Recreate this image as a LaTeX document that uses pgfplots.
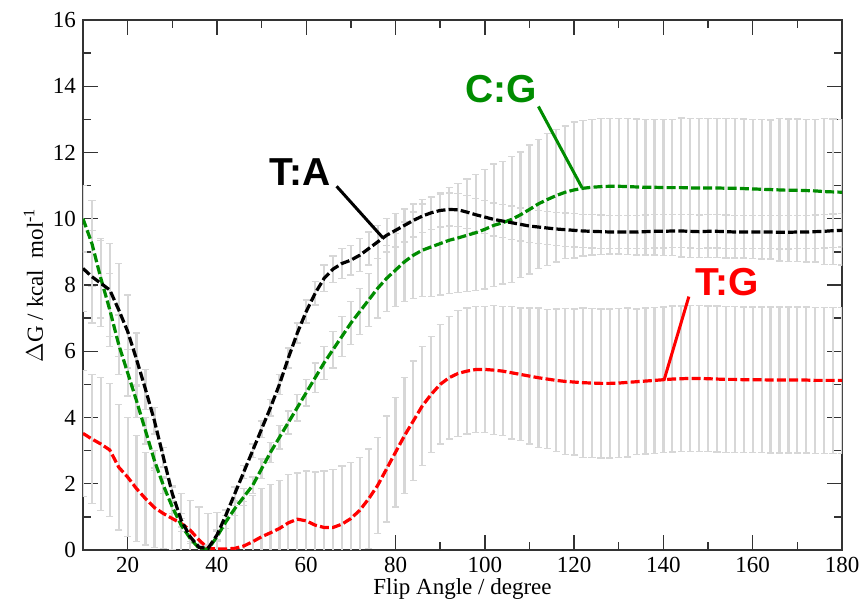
\documentclass[border=0pt]{standalone}
\usepackage{fontspec}
\setmainfont{Liberation Serif}
\setsansfont{Liberation Sans}
\usepackage{pgfplots}
\usepackage{pgfplotstable}
\pgfplotsset{compat=1.18}

\definecolor{cgG}{RGB}{0,140,0}
\definecolor{tgR}{RGB}{255,0,0}
\definecolor{barG}{RGB}{215,215,215}

% x = flip angle, y = dG, e = error
\pgfplotstableread{
x y e
10 8.50 1.3
12 8.25 1.4
14 8.05 1.3
16 7.85 1.4
18 7.25 1.4
20 6.60 1.1
22 5.75 0.8
24 4.85 0.6
26 3.90 0.4
28 2.80 0.3
30 1.70 0.25
32 0.90 0.2
34 0.40 0.15
36 0.08 0.1
38 0.05 0.1
40 0.45 0.15
42 1.05 0.15
44 1.70 0.2
46 2.35 0.2
48 3.00 0.2
50 3.65 0.25
52 4.30 0.25
54 5.00 0.3
56 5.80 0.3
58 6.55 0.3
60 7.20 0.35
62 7.75 0.35
64 8.20 0.4
66 8.48 0.4
68 8.65 0.45
70 8.75 0.45
72 8.90 0.5
74 9.10 0.5
76 9.30 0.5
78 9.50 0.5
80 9.65 0.5
82 9.80 0.5
84 9.95 0.5
86 10.08 0.5
88 10.18 0.5
90 10.25 0.5
92 10.28 0.5
94 10.27 0.5
96 10.20 0.5
98 10.12 0.5
100 10.05 0.5
102 9.98 0.5
104 9.93 0.5
106 9.88 0.5
108 9.83 0.5
110 9.78 0.5
112 9.75 0.5
114 9.72 0.5
116 9.69 0.5
118 9.67 0.5
120 9.65 0.5
122 9.63 0.5
124 9.62 0.5
126 9.61 0.5
128 9.60 0.5
130 9.60 0.5
132 9.60 0.5
134 9.60 0.5
136 9.61 0.5
138 9.62 0.5
140 9.62 0.5
142 9.63 0.5
144 9.63 0.5
146 9.62 0.5
148 9.61 0.5
150 9.62 0.5
152 9.62 0.5
154 9.61 0.5
156 9.60 0.5
158 9.60 0.5
160 9.60 0.5
162 9.60 0.5
164 9.60 0.5
166 9.59 0.5
168 9.59 0.5
170 9.60 0.5
172 9.60 0.5
174 9.61 0.5
176 9.62 0.5
178 9.64 0.5
180 9.65 0.5
}\ta

\pgfplotstableread{
x y e
10 10.00 1.0
12 9.25 1.3
14 8.20 1.2
16 7.25 1.1
18 6.20 0.9
20 5.35 0.7
22 4.50 0.5
24 3.60 0.4
26 2.70 0.3
28 1.95 0.25
30 1.30 0.2
32 0.75 0.2
34 0.35 0.15
36 0.05 0.1
38 0.02 0.1
40 0.40 0.15
42 0.85 0.2
44 1.25 0.2
46 1.60 0.25
48 1.95 0.25
50 2.45 0.3
52 2.95 0.3
54 3.40 0.35
56 3.85 0.35
58 4.30 0.4
60 4.75 0.4
62 5.20 0.45
64 5.65 0.5
66 6.05 0.55
68 6.45 0.6
70 6.85 0.65
72 7.20 0.7
74 7.55 0.8
76 7.90 0.9
78 8.20 1.0
80 8.45 1.1
82 8.70 1.2
84 8.90 1.3
86 9.05 1.4
88 9.15 1.5
90 9.25 1.55
92 9.35 1.6
94 9.42 1.65
96 9.50 1.7
98 9.58 1.75
100 9.68 1.8
102 9.80 1.85
104 9.88 1.85
106 9.98 1.9
108 10.12 1.9
110 10.28 1.95
112 10.45 1.95
114 10.58 2.0
116 10.70 2.0
118 10.80 2.0
120 10.87 2.05
122 10.92 2.05
124 10.95 2.05
126 10.97 2.05
128 10.98 2.05
130 10.98 2.05
132 10.97 2.05
134 10.96 2.05
136 10.95 2.05
138 10.95 2.05
140 10.94 2.05
142 10.94 2.05
144 10.94 2.1
146 10.93 2.1
148 10.93 2.1
150 10.93 2.1
152 10.93 2.1
154 10.92 2.1
156 10.92 2.1
158 10.91 2.1
160 10.90 2.1
162 10.89 2.1
164 10.88 2.1
166 10.87 2.15
168 10.86 2.15
170 10.86 2.15
172 10.85 2.15
174 10.84 2.15
176 10.82 2.2
178 10.81 2.2
180 10.80 2.2
}\cg

\pgfplotstableread{
x y e
10 3.52 1.9
12 3.35 1.95
14 3.20 2.0
16 3.02 2.0
18 2.50 1.9
20 2.20 1.8
22 1.85 1.6
24 1.55 1.4
26 1.28 1.2
28 1.10 1.05
30 0.95 0.95
32 0.80 0.9
34 0.60 0.9
36 0.30 1.0
38 0.05 1.05
40 0.03 1.1
42 0.03 1.2
44 0.05 1.3
46 0.12 1.35
48 0.25 1.4
50 0.40 1.45
52 0.52 1.45
54 0.65 1.45
56 0.82 1.45
58 0.93 1.4
60 0.88 1.5
62 0.75 1.6
64 0.68 1.7
66 0.68 1.75
68 0.78 1.75
70 0.95 1.7
72 1.20 1.6
74 1.55 1.5
76 1.95 1.45
78 2.45 1.6
80 2.95 1.65
82 3.45 1.75
84 3.90 1.8
86 4.35 1.8
88 4.70 1.75
90 5.00 1.8
92 5.20 1.85
94 5.33 1.9
96 5.40 1.9
98 5.45 1.9
100 5.45 1.9
102 5.43 1.95
104 5.40 1.95
106 5.35 2.0
108 5.30 2.0
110 5.25 2.05
112 5.20 2.1
114 5.16 2.1
116 5.12 2.15
118 5.09 2.2
120 5.07 2.2
122 5.05 2.25
124 5.04 2.25
126 5.03 2.25
128 5.03 2.25
130 5.04 2.25
132 5.06 2.25
134 5.08 2.2
136 5.10 2.2
138 5.12 2.2
140 5.14 2.2
142 5.16 2.2
144 5.17 2.2
146 5.18 2.2
148 5.18 2.2
150 5.17 2.2
152 5.16 2.2
154 5.15 2.2
156 5.15 2.2
158 5.14 2.2
160 5.14 2.2
162 5.14 2.2
164 5.13 2.2
166 5.13 2.2
168 5.13 2.2
170 5.13 2.2
172 5.13 2.2
174 5.12 2.2
176 5.12 2.2
178 5.12 2.2
180 5.12 2.2
}\tg

\pgfplotsset{
  errs/.style={draw=none, mark=none, forget plot,
    error bars/.cd, y dir=both, y explicit,
    error bar style={draw=barG, line width=1.1pt, solid},
    error mark options={rotate=90, mark size=1.8pt, line width=0.7pt, draw=barG, solid}},
  curve/.style={line width=1.6pt, dash pattern=on 4.5pt off 1.6pt, mark=none},
}

\begin{document}
\begin{tikzpicture}
\begin{axis}[
  scale only axis,
  width=379.5pt, height=265pt,
  xmin=10, xmax=180, ymin=0, ymax=16,
  xtick={20,40,...,180}, minor xtick={10,30,...,170},
  xticklabels={20,40,60,80,100,120,140,160,180},
  ytick={0,2,...,16}, minor ytick={1,3,...,15},
  yticklabels={0,2,4,6,8,10,12,14,16},
  major tick length=7.5pt, minor tick length=4pt,
  tick style={line width=0.7pt, black!80},
  axis line style={line width=0.75pt, black!80},
  tick label style={font=\rmfamily\fontsize{11.5}{13}\selectfont},
  label style={font=\rmfamily\fontsize{11.5}{13}\selectfont},
  xlabel={Flip Angle / degree},
  ylabel={$\Delta$G / kcal\ \ mol\textsuperscript{-1}},
  xlabel style={yshift=4pt},
  ylabel style={yshift=-2pt},
]
\addplot[errs] table[x=x, y=y, y error=e] {\tg};
\addplot[errs] table[x=x, y=y, y error=e] {\cg};
\addplot[errs] table[x=x, y=y, y error=e] {\ta};

\addplot[curve, tgR] table[x=x, y=y] {\tg};
\addplot[curve, cgG] table[x=x, y=y] {\cg};
\addplot[curve, black] table[x=x, y=y] {\ta};

\draw[line width=1.5pt, black] (axis cs:66.8,10.98) -- (axis cs:77.2,9.42);
\draw[line width=1.5pt, cgG] (axis cs:112,13.39) -- (axis cs:121.8,10.93);
\draw[line width=1.5pt, tgR] (axis cs:145.7,7.65) -- (axis cs:140.1,5.11);

\node[font=\sffamily\bfseries\fontsize{19.5}{20}\selectfont, black] at (axis cs:58.6,11.4) {T:A};
\node[font=\sffamily\bfseries\fontsize{19.5}{20}\selectfont, cgG] at (axis cs:103.6,13.9) {C:G};
\node[font=\sffamily\bfseries\fontsize{19.5}{20}\selectfont, tgR] at (axis cs:154.3,8.08) {T:G};
\end{axis}
\pgfresetboundingbox
\path ([shift={(-41.5pt,-29.5pt)}]current axis.south west) rectangle ([shift={(10.5pt,10pt)}]current axis.north east);
\end{tikzpicture}
\end{document}
